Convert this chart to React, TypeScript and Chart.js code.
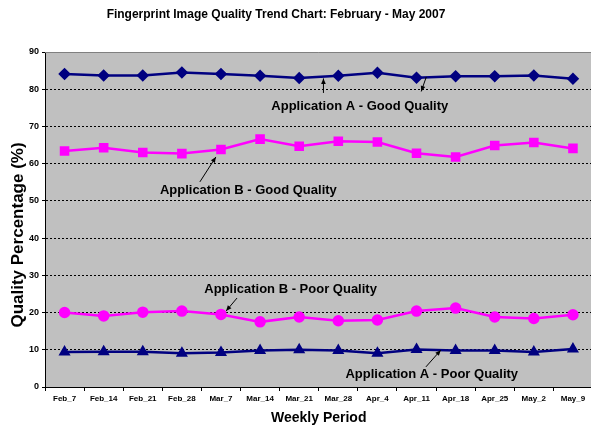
import React, { useEffect, useRef } from "react";
import { Chart, registerables } from "chart.js";

Chart.register(...registerables);

const categories = ["Feb_7", "Feb_14", "Feb_21", "Feb_28", "Mar_7", "Mar_14", "Mar_21", "Mar_28", "Apr_4", "Apr_11", "Apr_18", "Apr_25", "May_2", "May_9"];
const appAGood = [84.1, 83.7, 83.7, 84.5, 84.1, 83.6, 83.0, 83.6, 84.4, 83.1, 83.5, 83.5, 83.7, 82.8];
const appBGood = [63.4, 64.3, 63.0, 62.7, 63.8, 66.6, 64.7, 66.0, 65.8, 62.8, 61.8, 64.9, 65.7, 64.1];
const appBPoor = [20.0, 19.1, 20.1, 20.4, 19.5, 17.5, 18.8, 17.8, 18.0, 20.4, 21.2, 18.8, 18.4, 19.4];
const appAPoor = [9.4, 9.5, 9.5, 9.1, 9.3, 9.8, 10.0, 9.8, 9.1, 10.1, 9.8, 9.8, 9.4, 10.2];
const yTicks = [0, 10, 20, 30, 40, 50, 60, 70, 80, 90];

const titleText = "Fingerprint Image Quality Trend Chart: February - May 2007";
const yTitleText = "Quality Percentage (%)";
const xTitleText = "Weekly Period";
const annotationLabels = [
  "Application A - Good Quality",
  "Application B - Good Quality",
  "Application B - Poor Quality",
  "Application A - Poor Quality",
];

const FONT = "'Liberation Sans', Arial, Helvetica, sans-serif";

// annotation anchors in data space (category index, value)
const annotations = [
  { text: annotationLabels[0], at: [7.55, 75.5], arrows: [[[6.62, 79.0], [6.62, 82.9]], [[9.25, 83.3], [9.12, 79.4]]] },
  { text: annotationLabels[1], at: [4.7, 52.7], arrows: [[[3.46, 55.1], [3.87, 61.8]]] },
  { text: annotationLabels[2], at: [5.78, 26.2], arrows: [[[4.41, 23.9], [4.13, 20.4]]] },
  { text: annotationLabels[3], at: [9.39, 3.3], arrows: [[[9.24, 5.4], [9.62, 9.9]]] },
];

function drawArrow(ctx: CanvasRenderingContext2D, x1: number, y1: number, x2: number, y2: number) {
  const ang = Math.atan2(y2 - y1, x2 - x1);
  const len = 6;
  ctx.beginPath();
  ctx.moveTo(x1, y1);
  ctx.lineTo(x2, y2);
  ctx.strokeStyle = "#000";
  ctx.lineWidth = 1;
  ctx.stroke();
  ctx.beginPath();
  ctx.moveTo(x2, y2);
  ctx.lineTo(x2 - len * Math.cos(ang - 0.4), y2 - len * Math.sin(ang - 0.4));
  ctx.lineTo(x2 - len * Math.cos(ang + 0.4), y2 - len * Math.sin(ang + 0.4));
  ctx.closePath();
  ctx.fillStyle = "#000";
  ctx.fill();
}

const decorPlugin = {
  id: "decor",
  beforeDraw(chart: any) {
    const { ctx, chartArea } = chart;
    ctx.save();
    ctx.fillStyle = "#c0c0c0";
    ctx.fillRect(chartArea.left, chartArea.top, chartArea.right - chartArea.left, chartArea.bottom - chartArea.top);
    ctx.restore();
  },
  afterDatasetsDraw(chart: any) {
    const { ctx, chartArea } = chart;
    const xs = chart.scales.x;
    const ys = chart.scales.y;
    ctx.save();
    // plot border
    ctx.strokeStyle = "#808080";
    ctx.lineWidth = 1;
    ctx.beginPath();
    ctx.moveTo(chartArea.left, chartArea.top + 0.5);
    ctx.lineTo(chartArea.right, chartArea.top + 0.5);
    ctx.stroke();

    // annotations
    ctx.font = `bold 13px ${FONT}`;
    ctx.fillStyle = "#000";
    ctx.textAlign = "center";
    ctx.textBaseline = "middle";
    const px = (i: number) => xs.getPixelForValue(0) + i * (xs.getPixelForValue(1) - xs.getPixelForValue(0));
    annotations.forEach((a) => {
      ctx.fillStyle = "#000";
      ctx.fillText(a.text, px(a.at[0]), ys.getPixelForValue(a.at[1]));
      a.arrows.forEach((ar) => {
        drawArrow(ctx, px(ar[0][0]), ys.getPixelForValue(ar[0][1]), px(ar[1][0]), ys.getPixelForValue(ar[1][1]));
      });
    });

    // titles
    ctx.fillStyle = "#000";
    ctx.font = `bold 12px ${FONT}`;
    ctx.fillText(titleText, 276, 15);
    ctx.font = `bold 14px ${FONT}`;
    ctx.fillText(xTitleText, (chartArea.left + chartArea.right) / 2, 418);
    ctx.font = `bold 17px ${FONT}`;
    ctx.translate(18, 235);
    ctx.rotate(-Math.PI / 2);
    ctx.fillText(yTitleText, 0, 0);
    ctx.restore();
  },
};

export default function App() {
  const ref = useRef<HTMLCanvasElement>(null);
  useEffect(() => {
    document.body.style.margin = "0";
    const chart = new Chart(ref.current as HTMLCanvasElement, {
      type: "line",
      data: {
        labels: categories,
        datasets: [
          { label: "Application A - Good Quality", data: appAGood, borderColor: "#000080", backgroundColor: "#000080", pointStyle: "rectRot", pointRadius: 4.5, borderWidth: 2.5, tension: 0 },
          { label: "Application B - Good Quality", data: appBGood, borderColor: "#ff00ff", backgroundColor: "#ff00ff", pointStyle: "rect", pointRadius: 5, borderWidth: 2.5, tension: 0 },
          { label: "Application B - Poor Quality", data: appBPoor, borderColor: "#ff00ff", backgroundColor: "#ff00ff", pointStyle: "circle", pointRadius: 4.5, borderWidth: 2.5, tension: 0 },
          { label: "Application A - Poor Quality", data: appAPoor, borderColor: "#000080", backgroundColor: "#000080", pointStyle: "triangle", pointRadius: 4.5, borderWidth: 2.5, tension: 0 },
        ],
      },
      options: {
        animation: false,
        responsive: false,
        layout: { padding: { top: 52, right: 3, left: 0, bottom: 0 } },
        plugins: { legend: { display: false }, tooltip: { enabled: false }, title: { display: false } },
        scales: {
          x: {
            offset: true,
            grid: { display: true, offset: true, drawOnChartArea: false, drawTicks: true, tickLength: 4, color: "#000" },
            border: { display: true, color: "#000", width: 1 },
            ticks: { font: { family: FONT, size: 8, weight: "bold" }, color: "#000", padding: 3, maxRotation: 0, autoSkip: false },
            afterFit: (s: any) => { s.height = 38; },
          },
          y: {
            min: 0,
            max: 90,
            afterBuildTicks: (s: any) => { s.ticks = yTicks.map((v) => ({ value: v })); },
            grid: {
              color: (c: any) => (c.tick && c.tick.value === 90 ? "rgba(0,0,0,0)" : "#000"),
              tickColor: "#000",
              tickLength: 3,
              lineWidth: 1,
              tickBorderDash: [],
            },
            border: { display: true, color: "#000", width: 1, dash: [2, 2] },
            ticks: { font: { family: FONT, size: 9, weight: "bold" }, color: "#000", padding: 3 },
            afterFit: (s: any) => { s.width = 45; },
          },
        },
      },
      plugins: [decorPlugin],
    } as any);
    return () => chart.destroy();
  }, []);
  return (
    <div style={{ position: "fixed", left: 0, top: 0, width: 591, height: 425, overflow: "hidden", background: "#fff" }}>
      <canvas ref={ref} width={600} height={425} style={{ display: "block" }} />
    </div>
  );
}
